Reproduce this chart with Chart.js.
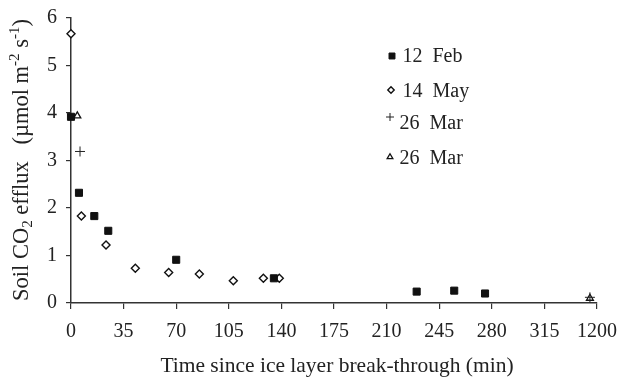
<!DOCTYPE html>
<html><head><meta charset="utf-8">
<script src="https://cdn.jsdelivr.net/npm/chart.js@4"></script>
<style>html,body{margin:0;padding:0;background:#fff}#w{width:621px;height:377px}</style>
</head><body><div id="w"><canvas id="c" width="621" height="377"></canvas></div>
<script>
// x positions are on the drawn axis (the last tick "1200" sits after an axis break)
const xTickValues = [0,35,70,105,140,175,210,245,280,315,350];
const xTickLabels = ["0","35","70","105","140","175","210","245","280","315","1200"];
const feb12X = [0,5.3,15.5,24.8,70,135,230,255,275.5];
const feb12Y = [3.92,2.32,1.83,1.52,0.91,0.52,0.24,0.26,0.20];
const may14X = [0,6.9,23.3,42.8,65,85.4,108,128,138.6];
const may14Y = [5.67,1.83,1.22,0.73,0.64,0.61,0.47,0.52,0.52];
const mar26aX = [6,345.3];
const mar26aY = [3.19,0.12];
const mar26bX = [4.2,345.3];
const mar26bY = [3.94,0.10];
const legendLabels = ["12  Feb","14  May","26  Mar","26  Mar"];

const pts=(xs,ys)=>xs.map((x,i)=>({x:x,y:ys[i]}));
const FONT='"Liberation Serif","Times New Roman",serif';

function drawMarker(ctx,ds,x,y){
  ctx.save();
  ctx.fillStyle=ds.pointBackgroundColor;ctx.strokeStyle=ds.pointBorderColor;ctx.lineWidth=ds.pointBorderWidth;
  Chart.helpers.drawPoint(ctx,{pointStyle:ds.pointStyle,radius:ds.legendRadius,rotation:0,borderWidth:ds.pointBorderWidth},x,y);
  ctx.restore();
}

const overlay={id:'overlay',afterDraw(chart){
  const ctx=chart.ctx;ctx.save();ctx.fillStyle='#222';
  // x title
  ctx.font='21.5px '+FONT;ctx.textAlign='center';ctx.textBaseline='middle';
  ctx.fillText('Time since ice layer break-through (min)',337,366);
  // y title rotated with sub/superscripts
  ctx.translate(22,160);ctx.rotate(-Math.PI/2);
  const parts=[['Soil CO',22.5,0],['2',15,6],[' efflux   (µmol m',22.5,0],['-2',15,-7],[' s',22.5,0],['-1',15,-7],[')',22.5,0]];
  let total=0;parts.forEach(p=>{ctx.font=p[1]+'px '+FONT;total+=ctx.measureText(p[0]).width;});
  let x=-total/2;ctx.textAlign='left';
  parts.forEach(p=>{ctx.font=p[1]+'px '+FONT;ctx.fillText(p[0],x,p[2]);x+=ctx.measureText(p[0]).width;});
  ctx.restore();
  // legend
  ctx.save();ctx.font='20px '+FONT;ctx.textAlign='left';ctx.textBaseline='middle';ctx.fillStyle='#222';
  const rows=[57,92,124,159];
  const mk=[[392,56],[391,90],[390,117],[390,157]];
  const tx=[402.5,402.5,399.5,399.5];
  chart.data.datasets.forEach((ds,i)=>{
    drawMarker(ctx,ds,mk[i][0],mk[i][1]);
    ctx.fillStyle='#222';
    ctx.fillText(legendLabels[i],tx[i],rows[i]);
  });
  ctx.restore();
}};

new Chart(document.getElementById('c'),{
  type:'scatter',
  data:{datasets:[
    {data:pts(feb12X,feb12Y),pointStyle:'rect',pointRadius:5,legendRadius:4.2,pointBackgroundColor:'#111',pointBorderColor:'#111',pointBorderWidth:1,clip:false},
    {data:pts(may14X,may14Y),pointStyle:'rectRot',pointRadius:4,legendRadius:3.2,pointBackgroundColor:'#fff',pointBorderColor:'#111',pointBorderWidth:1.4,clip:false},
    {data:pts(mar26aX,mar26aY),pointStyle:'cross',pointRadius:5,legendRadius:4,pointBackgroundColor:'#111',pointBorderColor:'#222',pointBorderWidth:1,clip:false},
    {data:pts(mar26bX,mar26bY),pointStyle:'triangle',pointRadius:4,legendRadius:3.3,pointBackgroundColor:'#fff',pointBorderColor:'#111',pointBorderWidth:1.3,clip:false}
  ]},
  options:{
    responsive:false,animation:false,
    layout:{padding:{top:18,right:24,left:0,bottom:0}},
    plugins:{legend:{display:false},tooltip:{enabled:false}},
    scales:{
      x:{type:'linear',min:0,max:350,
        afterFit(s){s.height=74;s.paddingLeft=0;s.paddingRight=0;},
        afterBuildTicks(s){s.ticks=xTickValues.map(v=>({value:v}));},
        ticks:{autoSkip:false,maxRotation:0,color:'#222',font:{family:FONT,size:20},padding:11,
          callback:(v)=>{const i=xTickValues.indexOf(v);return i>=0?xTickLabels[i]:'';}},
        grid:{drawOnChartArea:false,drawTicks:true,tickLength:6,color:'#333',lineWidth:1.2},
        border:{color:'#333',width:1.5}},
      y:{type:'linear',min:0,max:6,
        afterFit(s){s.width=71;s.paddingTop=0;s.paddingBottom=0;},
        ticks:{stepSize:1,color:'#222',font:{family:FONT,size:20},padding:9},
        grid:{drawOnChartArea:false,drawTicks:true,tickLength:5,color:'#333',lineWidth:1.2},
        border:{color:'#333',width:1.5}}
    }
  },
  plugins:[overlay]
});
</script></body></html>
